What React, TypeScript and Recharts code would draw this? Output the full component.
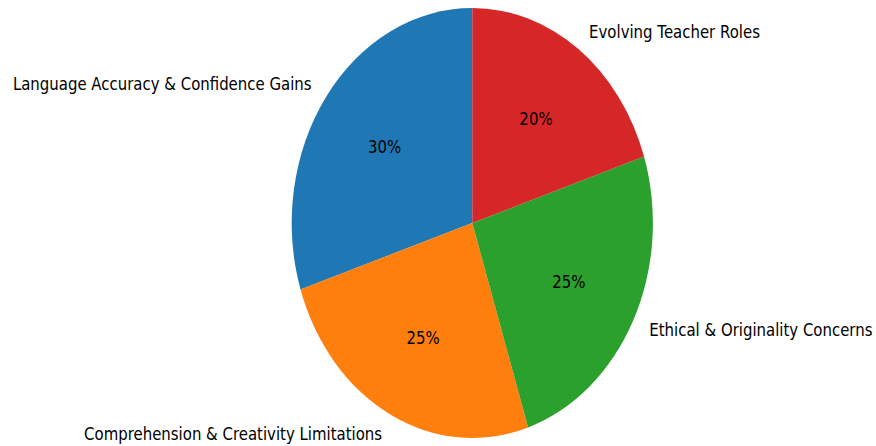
import React from 'react';
import { PieChart, Pie, Cell } from 'recharts';

const categories = [
  'Language Accuracy & Confidence Gains',
  'Comprehension & Creativity Limitations',
  'Ethical & Originality Concerns',
  'Evolving Teacher Roles',
];
const shares = [30, 25, 25, 20];
const colors = ['#1f77b4', '#ff7f0e', '#2ca02c', '#d62728'];

const data = categories.map((name, i) => ({ name, value: shares[i] }));

const RAD = Math.PI / 180;
const SX = 0.84;
const FONT = 'DejaVu Sans, sans-serif';
const FS = 17.8;

const renderLabel = (props: any) => {
  const { cx, cy, midAngle, outerRadius, name, value, index } = props;
  const c = Math.cos(-midAngle * RAD);
  const s = Math.sin(-midAngle * RAD);
  const lx = cx + outerRadius * 1.1 * c;
  const ly = cy + outerRadius * 1.1 * s;
  const px = cx + outerRadius * 0.6 * c;
  const py = cy + outerRadius * 0.6 * s;
  return (
    <g key={`lbl-${index}`}>
      <text
        x={lx}
        y={ly}
        textAnchor={c >= 0 ? 'start' : 'end'}
        dominantBaseline="central"
        fontFamily={FONT}
        fontSize={FS}
        fill="#000"
      >
        {name}
      </text>
      <text
        x={px}
        y={py}
        textAnchor="middle"
        dominantBaseline="central"
        fontFamily={FONT}
        fontSize={FS}
        fill="#000"
      >
        {`${value}%`}
      </text>
    </g>
  );
};

export default function App() {
  const W = Math.round(876 / SX);
  return (
    <div
      style={{
        position: 'absolute',
        left: 0,
        top: 0,
        width: 876,
        height: 446,
        overflow: 'hidden',
        background: '#fff',
      }}
    >
      <div style={{ width: W, height: 446, transform: `scaleX(${SX})`, transformOrigin: '0 0' }}>
        <PieChart width={W} height={446} margin={{ top: 0, right: 0, bottom: 0, left: 0 }}>
          <Pie
            data={data}
            dataKey="value"
            nameKey="name"
            cx={472.3 / SX}
            cy={223}
            outerRadius={215}
            startAngle={90}
            endAngle={450}
            stroke="none"
            label={renderLabel}
            labelLine={false}
            isAnimationActive={false}
          >
            {data.map((d, i) => (
              <Cell key={d.name} fill={colors[i]} />
            ))}
          </Pie>
        </PieChart>
      </div>
    </div>
  );
}
